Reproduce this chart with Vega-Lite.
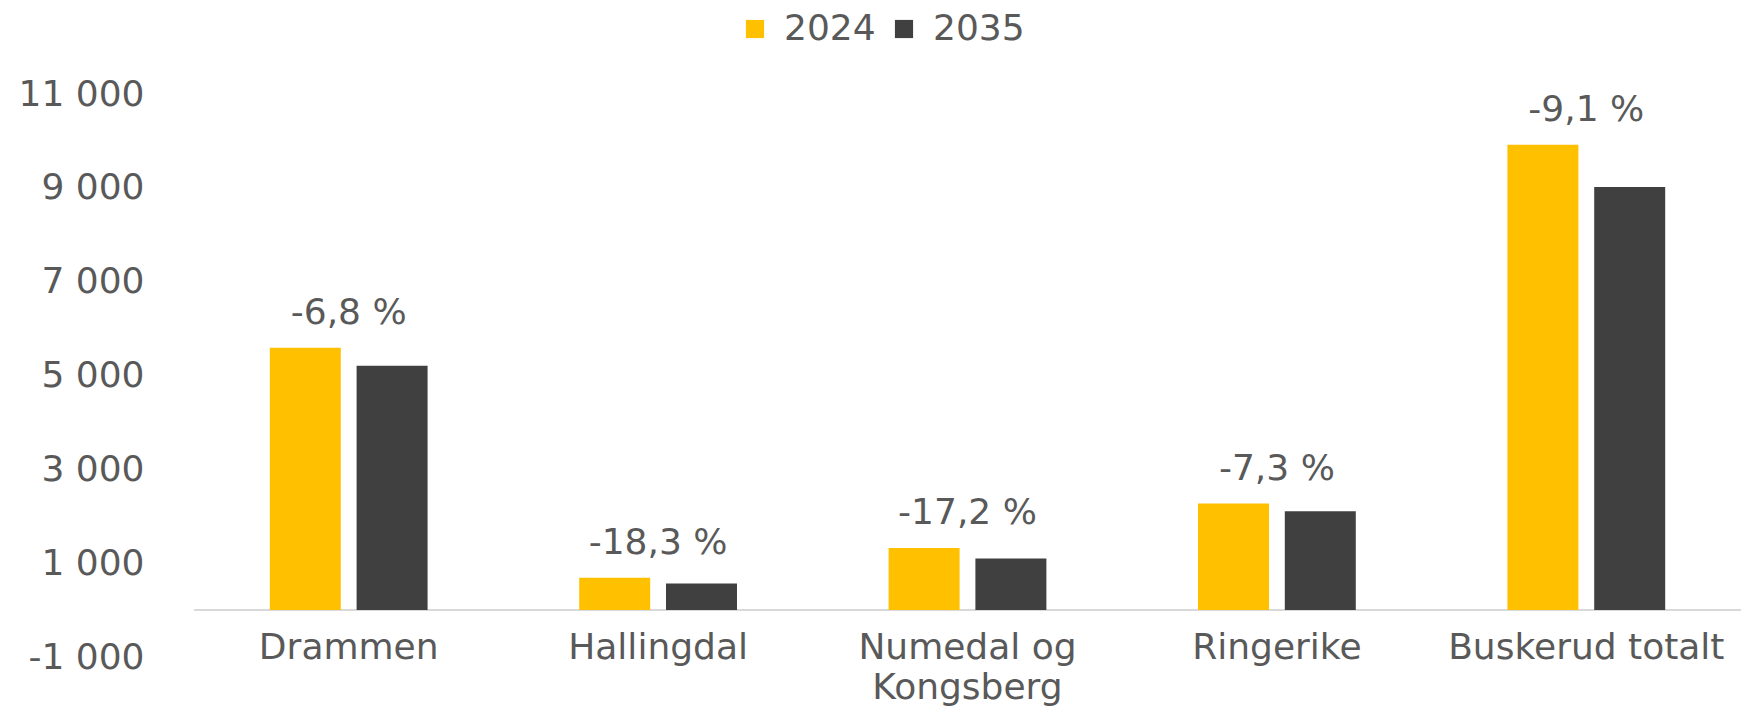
{
  "$schema": "https://vega.github.io/schema/vega-lite/v6.json",
  "autosize": {"type": "none"},
  "width": 1547,
  "height": 563,
  "padding": {"left": 194, "top": 94, "right": 0, "bottom": 49},
  "background": "white",
  "config": {
    "view": {"stroke": null},
    "font": "DejaVu Sans",
    "text": {"font": "DejaVu Sans"}
  },
  "datasets": {
    "bars": [
      {"region": "Drammen", "year": "2024", "value": 5590, "change": "-6,8 %"},
      {"region": "Drammen", "year": "2035", "value": 5210, "change": "-6,8 %"},
      {"region": "Hallingdal", "year": "2024", "value": 690, "change": "-18,3 %"},
      {"region": "Hallingdal", "year": "2035", "value": 565, "change": "-18,3 %"},
      {"region": "Numedal og Kongsberg", "year": "2024", "value": 1325, "change": "-17,2 %"},
      {"region": "Numedal og Kongsberg", "year": "2035", "value": 1097, "change": "-17,2 %"},
      {"region": "Ringerike", "year": "2024", "value": 2270, "change": "-7,3 %"},
      {"region": "Ringerike", "year": "2035", "value": 2105, "change": "-7,3 %"},
      {"region": "Buskerud totalt", "year": "2024", "value": 9920, "change": "-9,1 %"},
      {"region": "Buskerud totalt", "year": "2035", "value": 9020, "change": "-9,1 %"}
    ],
    "zero": [{"v": 0}]
  },
  "layer": [
    {
      "data": {"name": "zero"},
      "mark": {"type": "rule", "color": "#d9d9d9", "strokeWidth": 2},
      "encoding": {
        "y": {"field": "v", "type": "quantitative", "scale": {"domain": [-1000, 11000], "nice": false, "zero": false}}
      }
    },
    {
      "data": {"name": "bars"},
      "mark": {"type": "bar"},
      "encoding": {
        "x": {
          "field": "region", "type": "nominal", "sort": null,
          "scale": {"paddingInner": 0.49, "paddingOuter": 0.245},
          "axis": {
            "title": null, "domain": false, "ticks": false, "labelAngle": 0,
            "labelFontSize": 36, "labelColor": "#595959", "labelFont": "DejaVu Sans",
            "labelPadding": 0, "offset": -27, "labelBaseline": "top",
            "labelLineHeight": 40, "labelLimit": 0,
            "labelExpr": "datum.value == 'Numedal og Kongsberg' ? ['Numedal og', 'Kongsberg'] : datum.value"
          }
        },
        "xOffset": {"field": "year", "type": "nominal", "scale": {"paddingInner": 0.182}},
        "y": {
          "field": "value", "type": "quantitative",
          "scale": {"domain": [-1000, 11000], "nice": false, "zero": false},
          "axis": {
            "title": null, "domain": false, "ticks": false, "grid": false,
            "values": [-1000, 1000, 3000, 5000, 7000, 9000, 11000],
            "labelExpr": "replace(replace(format(datum.value, ','), ',', ' '), '\u2212', '-')",
            "labelFontSize": 36, "labelColor": "#595959", "labelFont": "DejaVu Sans",
            "labelPadding": 50, "labelLimit": 0
          }
        },
        "y2": {"datum": 0},
        "color": {
          "field": "year", "type": "nominal",
          "scale": {"domain": ["2024", "2035"], "range": ["#FFC000", "#404040"]},
          "legend": {
            "title": null, "orient": "none", "direction": "horizontal",
            "legendX": 543, "legendY": -83, "padding": 0,
            "symbolType": "square", "symbolSize": 330, "symbolStrokeWidth": 0,
            "labelFontSize": 36, "labelColor": "#595959", "labelFont": "DejaVu Sans",
            "labelOffset": 11, "columnSpacing": 30, "labelLimit": 0
          }
        }
      }
    },
    {
      "data": {"name": "bars"},
      "transform": [{"filter": "datum.year == '2024'"}],
      "mark": {"type": "text", "fontSize": 36, "color": "#595959", "baseline": "middle", "dy": -35, "font": "DejaVu Sans"},
      "encoding": {
        "x": {"field": "region", "type": "nominal", "sort": null},
        "y": {"field": "value", "type": "quantitative"},
        "text": {"field": "change"}
      }
    }
  ]
}
